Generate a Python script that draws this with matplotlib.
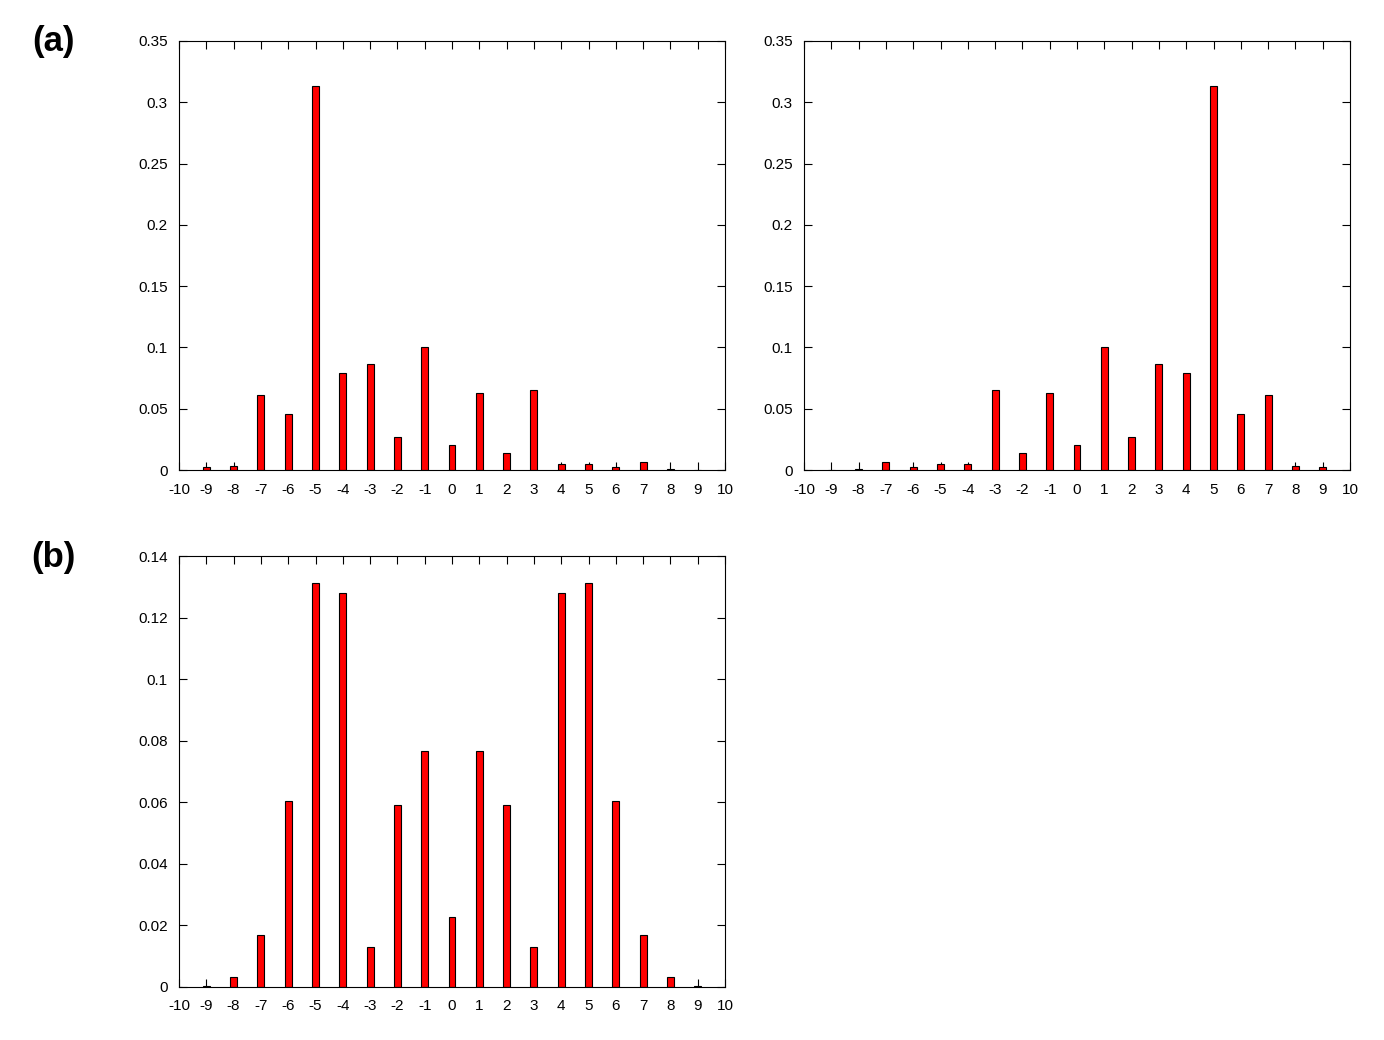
import matplotlib
matplotlib.use("Agg")
import matplotlib.pyplot as plt
from matplotlib.ticker import FuncFormatter, MultipleLocator

plt.rcParams["font.family"] = ["Liberation Sans", "DejaVu Sans"]
plt.rcParams["axes.unicode_minus"] = False

# values
sites = list(range(-10, 11))
prob_a_left = [0.0, 0.0022, 0.003, 0.0612, 0.0457, 0.313, 0.079, 0.0865, 0.0267, 0.1003,
               0.020, 0.0626, 0.0136, 0.065, 0.0046, 0.0046, 0.0022, 0.0063, 0.0005, 0.0001, 0.0]
prob_a_right = prob_a_left[::-1]
prob_b = [0.0, 0.0004, 0.0032, 0.017, 0.0604, 0.1312, 0.128, 0.0131, 0.059, 0.0767,
          0.0228, 0.0767, 0.059, 0.0131, 0.128, 0.1312, 0.0604, 0.017, 0.0032, 0.0004, 0.0]

W, H = 1384, 1040
fig = plt.figure(figsize=(W / 100, H / 100), dpi=100)


def fmt(v, pos):
    return f"{v:g}"


def panel(rect, vals, ymax, ystep):
    ax = fig.add_axes(rect)
    ax.set_axisbelow(True)
    ax.bar(sites, vals, width=0.25, color="#ff0000", edgecolor="black", linewidth=0.8)
    ax.set_xlim(-10, 10)
    ax.set_ylim(0, ymax)
    ax.xaxis.set_major_locator(MultipleLocator(1))
    ax.yaxis.set_major_locator(MultipleLocator(ystep))
    ax.yaxis.set_major_formatter(FuncFormatter(fmt))
    ax.tick_params(direction="in", top=True, right=True, length=6, width=0.8,
                   labelsize=11)
    ax.tick_params(axis="x", pad=9)
    ax.tick_params(axis="y", pad=8)
    for s in ax.spines.values():
        s.set_linewidth(0.8)
        s.set_zorder(3)
    return ax


panel([179 / W, 1 - 470 / H, 546 / W, 429 / H], prob_a_left, 0.35, 0.05)
panel([804 / W, 1 - 470 / H, 546 / W, 429 / H], prob_a_right, 0.35, 0.05)
panel([179 / W, 1 - 987 / H, 546 / W, 431 / H], prob_b, 0.14, 0.02)

fig.text(53 / W, 1 - 42 / H, "(a)", fontsize=25, fontweight="bold", ha="center", va="center")
fig.text(53 / W, 1 - 558 / H, "(b)", fontsize=25, fontweight="bold", ha="center", va="center")

fig.savefig("out.png", dpi=100)
